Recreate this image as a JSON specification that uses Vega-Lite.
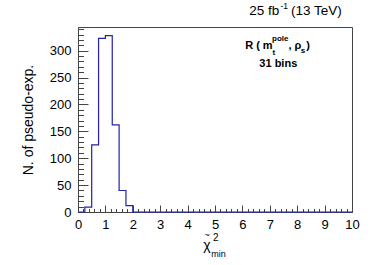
{
  "$schema": "https://vega.github.io/schema/vega-lite/v6.json",
  "width": 274,
  "height": 185,
  "autosize": {"type": "none"},
  "padding": {"left": 78, "top": 27, "right": 38, "bottom": 53},
  "datasets": {
    "hist": [
      {"x": 0, "n": 0}, {"x": 0.25, "n": 9}, {"x": 0.5, "n": 125}, {"x": 0.75, "n": 323},
      {"x": 1.0, "n": 328}, {"x": 1.25, "n": 162}, {"x": 1.5, "n": 40}, {"x": 1.75, "n": 12},
      {"x": 2.0, "n": 0}, {"x": 2.25, "n": 0}, {"x": 2.5, "n": 0}, {"x": 2.75, "n": 0},
      {"x": 3.0, "n": 0}, {"x": 3.25, "n": 0}, {"x": 3.5, "n": 0}, {"x": 3.75, "n": 0},
      {"x": 4.0, "n": 0}, {"x": 4.25, "n": 0}, {"x": 4.5, "n": 0}, {"x": 4.75, "n": 0},
      {"x": 5.0, "n": 0}, {"x": 5.25, "n": 0}, {"x": 5.5, "n": 0}, {"x": 5.75, "n": 0},
      {"x": 6.0, "n": 0}, {"x": 6.25, "n": 0}, {"x": 6.5, "n": 0}, {"x": 6.75, "n": 0},
      {"x": 7.0, "n": 0}, {"x": 7.25, "n": 0}, {"x": 7.5, "n": 0}, {"x": 7.75, "n": 0},
      {"x": 8.0, "n": 0}, {"x": 8.25, "n": 0}, {"x": 8.5, "n": 0}, {"x": 8.75, "n": 0},
      {"x": 9.0, "n": 0}, {"x": 9.25, "n": 0}, {"x": 9.5, "n": 0}, {"x": 9.75, "n": 0},
      {"x": 10.0, "n": 0}
    ],
    "one": [{}]
  },
  "config": {
    "view": {"stroke": "#444", "strokeWidth": 1},
    "axis": {"labelFont": "Liberation Sans", "titleFont": "Liberation Sans", "domainColor": "#444", "tickColor": "#444", "grid": false, "labelColor": "#000", "titleColor": "#000"},
    "text": {"font": "Liberation Sans", "color": "#000", "baseline": "alphabetic", "align": "left"}
  },
  "resolve": {"axis": {"x": "independent", "y": "independent"}},
  "layer": [
    {
      "data": {"name": "hist"},
      "mark": {"type": "line", "interpolate": "step-after", "color": "#2222aa", "strokeWidth": 1.2},
      "encoding": {
        "x": {"field": "x", "type": "quantitative", "scale": {"domain": [0, 10], "nice": false, "zero": false},
          "axis": {"orient": "bottom", "values": [0, 1, 2, 3, 4, 5, 6, 7, 8, 9, 10], "tickSize": -7, "labelPadding": 13, "title": null, "labelFontSize": 13, "labelFlush": false, "labelOverlap": false}},
        "y": {"field": "n", "type": "quantitative", "scale": {"domain": [0, 344], "nice": false},
          "axis": {"orient": "left", "values": [0, 50, 100, 150, 200, 250, 300], "tickSize": -10, "labelPadding": 17, "labelFontSize": 13, "title": "N. of pseudo-exp.", "titleFontSize": 14, "titleFontWeight": "normal", "titlePadding": 14}}
      }
    },
    {
      "data": {"name": "hist"},
      "mark": {"type": "point", "opacity": 0},
      "encoding": {
        "x": {"field": "x", "type": "quantitative",
          "axis": {"orient": "bottom", "values": [0.2,0.4,0.6,0.8,1.2,1.4,1.6,1.8,2.2,2.4,2.6,2.8,3.2,3.4,3.6,3.8,4.2,4.4,4.6,4.8,5.2,5.4,5.6,5.8,6.2,6.4,6.6,6.8,7.2,7.4,7.6,7.8,8.2,8.4,8.6,8.8,9.2,9.4,9.6,9.8], "tickSize": -3.5, "labels": false, "domain": false, "title": null}},
        "y": {"field": "n", "type": "quantitative",
          "axis": {"orient": "left", "values": [10,20,30,40,60,70,80,90,110,120,130,140,160,170,180,190,210,220,230,240,260,270,280,290,310,320,330,340], "tickSize": -5.5, "labels": false, "domain": false, "title": null}}
      }
    },
    {
      "data": {"name": "one"},
      "mark": {"type": "text", "text": "25 fb", "fontSize": 13.5},
      "encoding": {"x": {"datum": 6.25, "type": "quantitative", "axis": null}, "y": {"datum": 367, "type": "quantitative", "axis": null}}
    },
    {
      "data": {"name": "one"},
      "mark": {"type": "text", "text": "-1", "fontSize": 8.5},
      "encoding": {"x": {"datum": 7.39, "type": "quantitative", "axis": null}, "y": {"datum": 377, "type": "quantitative", "axis": null}}
    },
    {
      "data": {"name": "one"},
      "mark": {"type": "text", "text": "(13 TeV)", "fontSize": 13.5},
      "encoding": {"x": {"datum": 7.77, "type": "quantitative", "axis": null}, "y": {"datum": 367, "type": "quantitative", "axis": null}}
    },
    {
      "data": {"name": "one"},
      "mark": {"type": "text", "text": "R ( m", "fontSize": 11, "fontWeight": "bold"},
      "encoding": {"x": {"datum": 6.1, "type": "quantitative", "axis": null}, "y": {"datum": 302.5, "type": "quantitative", "axis": null}}
    },
    {
      "data": {"name": "one"},
      "mark": {"type": "text", "text": "pole", "fontSize": 8, "fontWeight": "bold"},
      "encoding": {"x": {"datum": 7.08, "type": "quantitative", "axis": null}, "y": {"datum": 318, "type": "quantitative", "axis": null}}
    },
    {
      "data": {"name": "one"},
      "mark": {"type": "text", "text": "t", "fontSize": 8, "fontWeight": "bold"},
      "encoding": {"x": {"datum": 7.1, "type": "quantitative", "axis": null}, "y": {"datum": 292, "type": "quantitative", "axis": null}}
    },
    {
      "data": {"name": "one"},
      "mark": {"type": "text", "text": ", ρ", "fontSize": 11, "fontWeight": "bold"},
      "encoding": {"x": {"datum": 7.68, "type": "quantitative", "axis": null}, "y": {"datum": 302.5, "type": "quantitative", "axis": null}}
    },
    {
      "data": {"name": "one"},
      "mark": {"type": "text", "text": "s", "fontSize": 8, "fontWeight": "bold"},
      "encoding": {"x": {"datum": 8.13, "type": "quantitative", "axis": null}, "y": {"datum": 295, "type": "quantitative", "axis": null}}
    },
    {
      "data": {"name": "one"},
      "mark": {"type": "text", "text": ")", "fontSize": 11, "fontWeight": "bold"},
      "encoding": {"x": {"datum": 8.33, "type": "quantitative", "axis": null}, "y": {"datum": 302.5, "type": "quantitative", "axis": null}}
    },
    {
      "data": {"name": "one"},
      "mark": {"type": "text", "text": "31 bins", "align": "center", "fontSize": 11, "fontWeight": "bold"},
      "encoding": {"x": {"datum": 7.31, "type": "quantitative", "axis": null}, "y": {"datum": 270, "type": "quantitative", "axis": null}}
    },
    {
      "data": {"name": "one"},
      "mark": {"type": "text", "text": "χ", "fontSize": 14},
      "encoding": {"x": {"datum": 4.57, "type": "quantitative", "axis": null}, "y": {"datum": -71, "type": "quantitative", "axis": null}}
    },
    {
      "data": {"name": "one"},
      "mark": {"type": "text", "text": "~", "fontSize": 9},
      "encoding": {"x": {"datum": 4.62, "type": "quantitative", "axis": null}, "y": {"datum": -48, "type": "quantitative", "axis": null}}
    },
    {
      "data": {"name": "one"},
      "mark": {"type": "text", "text": "2", "fontSize": 10},
      "encoding": {"x": {"datum": 4.93, "type": "quantitative", "axis": null}, "y": {"datum": -54, "type": "quantitative", "axis": null}}
    },
    {
      "data": {"name": "one"},
      "mark": {"type": "text", "text": "min", "fontSize": 9},
      "encoding": {"x": {"datum": 4.86, "type": "quantitative", "axis": null}, "y": {"datum": -84, "type": "quantitative", "axis": null}}
    }
  ]
}
